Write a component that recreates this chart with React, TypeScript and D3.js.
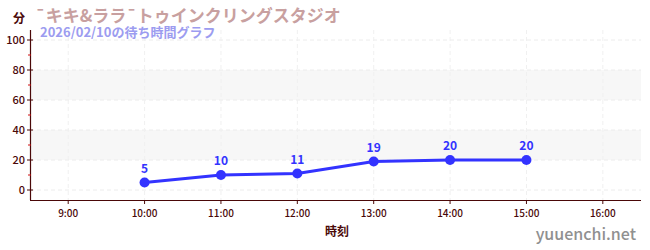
import React from "react";
import * as d3 from "d3";

const hours = [10, 11, 12, 13, 14, 15];
const waits = [5, 10, 11, 19, 20, 20];
const xTicks = [9, 10, 11, 12, 13, 14, 15, 16];
const yTicks = [0, 20, 40, 60, 80, 100];
const yMinor = [10, 30, 50, 70, 90];
const bands = [[20, 40], [60, 80]];
const title = "¯キキ&ララ¯トゥインクリングスタジオ";
const subtitle = "2026/02/10の待ち時間グラフ";

export default function App() {
  const W = 650, H = 250;
  const left = 30, right = 641, top = 30, bottom = 200;
  const x = d3.scaleLinear().domain([8.5, 16.5]).range([left, right]);
  const y = d3.scaleLinear().domain([-20 / 3, 320 / 3]).range([bottom, top]);
  const line = d3.line<number>().x((_, i) => x(hours[i])).y((d) => y(d));
  const font = "'Noto Sans CJK JP', 'Noto Sans', sans-serif";
  const axisColor = "#4a0808";
  return (
    <svg width={W} height={H} style={{ position: "absolute", left: 0, top: 0 }} fontFamily={font}>
      <rect x={0} y={0} width={W} height={H} fill="#fff" />
      {bands.map(([a, b], i) => (
        <rect key={i} x={left} y={y(b)} width={right - left} height={y(a) - y(b)} fill="#f7f7f7" />
      ))}
      {yTicks.map((t) => (
        <line key={t} x1={left} x2={right} y1={y(t)} y2={y(t)} stroke="#ececec" strokeDasharray="4,3" />
      ))}
      {xTicks.map((t) => (
        <line key={t} x1={x(t)} x2={x(t)} y1={top} y2={bottom} stroke="#f0f0f0" strokeDasharray="4,3" />
      ))}
      <line x1={left + 0.5} x2={left + 0.5} y1={top} y2={bottom} stroke={axisColor} strokeWidth={1.2} />
      <line x1={left} x2={right} y1={bottom + 0.5} y2={bottom + 0.5} stroke={axisColor} strokeWidth={1.2} />
      {yTicks.map((t) => (
        <g key={t}>
          <line x1={left - 3} x2={left + 3} y1={y(t)} y2={y(t)} stroke={axisColor} />
          <text x={left - 5} y={y(t)} dy="0.35em" textAnchor="end" fontSize={11} fontWeight={500} fill={axisColor}>{t}</text>
        </g>
      ))}
      {yMinor.map((t) => (
        <line key={t} x1={left - 2} x2={left + 1} y1={y(t)} y2={y(t)} stroke="#d01010" />
      ))}
      {xTicks.map((t) => (
        <g key={t}>
          <line x1={x(t)} x2={x(t)} y1={bottom} y2={bottom + 4} stroke={axisColor} />
          <text x={x(t)} y={bottom + 13} dy="0.35em" textAnchor="middle" fontSize={10} fontWeight={500} fill={axisColor}>{`${t}:00`}</text>
        </g>
      ))}
      <path d={line(waits) || ""} fill="none" stroke="#3333ff" strokeWidth={3} />
      {waits.map((v, i) => (
        <g key={i}>
          <circle cx={x(hours[i])} cy={y(v)} r={5} fill="#3333ff" />
          <text x={x(hours[i])} y={y(v) - 10} textAnchor="middle" fontSize={12} fontWeight="bold" fill="#3333ff">{v}</text>
        </g>
      ))}
      <text x={13} y={23} fontSize={12} fontWeight="bold" fill={axisColor}>分</text>
      <text x={35} y={22} fontSize={17} fontWeight="bold" fill="#c8a0a0">{title}</text>
      <text x={40} y={37} fontSize={13} fontWeight="bold" fill="#9c9cf0">{subtitle}</text>
      <text x={337} y={236} textAnchor="middle" fontSize={12} fontWeight="bold" fill={axisColor}>時刻</text>
      <text x={636} y={240} textAnchor="end" fontSize={16} fontWeight={500} fill="#909090">yuuenchi.net</text>
    </svg>
  );
}
